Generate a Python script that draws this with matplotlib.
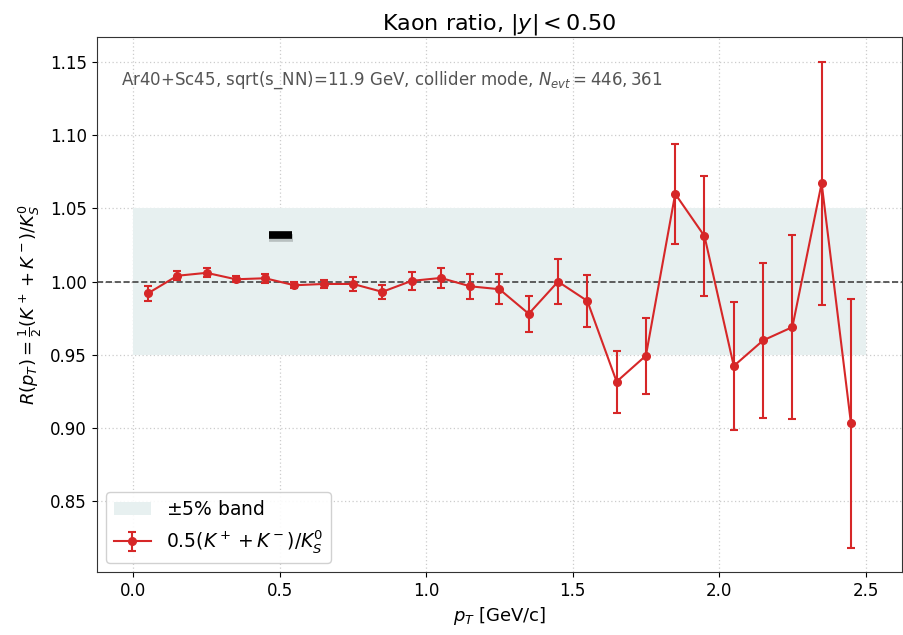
import numpy as np
import matplotlib
matplotlib.use("Agg")
import matplotlib.pyplot as plt
import matplotlib.patheffects as pe

pt = [0.05, 0.15, 0.25, 0.35, 0.45, 0.55, 0.65, 0.75, 0.85, 0.95, 1.05, 1.15,
      1.25, 1.35, 1.45, 1.55, 1.65, 1.75, 1.85, 1.95, 2.05, 2.15, 2.25, 2.35, 2.45]
ratio = [0.992, 1.004, 1.006, 1.0016, 1.0023, 0.9975, 0.9984, 0.9984, 0.993, 1.0005,
         1.0025, 0.9968, 0.9948, 0.978, 1.000, 0.9868, 0.9316, 0.9494, 1.060, 1.0311,
         0.9423, 0.9598, 0.9689, 1.0673, 0.9032]
err = [0.005, 0.003, 0.003, 0.002, 0.003, 0.002, 0.003, 0.0045, 0.005, 0.006,
       0.007, 0.0085, 0.0103, 0.0123, 0.0153, 0.018, 0.0212, 0.0259, 0.0343, 0.0408,
       0.0437, 0.053, 0.063, 0.083, 0.0852]
band_x = [0.0, 2.5]
band_lo = [0.95, 0.95]
band_hi = [1.05, 1.05]
dash_x = [0.462, 0.543]
dash_y = [1.032, 1.032]

fig = plt.figure(figsize=(9.04, 6.35), dpi=100)
ax = fig.add_axes([0.107, 0.099, 0.891, 0.842])

ax.fill_between(band_x, band_lo, band_hi, color='#e7f0f0', lw=0,
                label=r'$\pm5\%$ band')
ax.axhline(1.0, color='#444444', ls='--', lw=1.2)
ax.errorbar(pt, ratio, yerr=err, fmt='o-', color='#d62728', ms=5.5, lw=1.5,
            capsize=3, elinewidth=1.5, capthick=1.5,
            label=r'$0.5(K^+ + K^-)/K^0_S$')
ax.plot(dash_x, dash_y, color='black', lw=5.5, solid_capstyle='butt',
        path_effects=[pe.SimpleLineShadow(offset=(0.5, -2), alpha=0.2), pe.Normal()])

ax.grid(True, ls=(0, (1, 2)), color='#cccccc', lw=0.9)
ax.set_axisbelow(True)
ax.set_title(r'Kaon ratio, $|y| < 0.50$', fontsize=16)
ax.set_xlabel(r'$p_T$ [GeV/c]', fontsize=13)
ax.set_ylabel(r'$R(p_T) = \frac{1}{2}(K^+ + K^-)/K^0_S$', fontsize=13)
ax.tick_params(labelsize=12)
ax.text(0.03, 0.94, r'Ar40+Sc45, sqrt(s_NN)=11.9 GeV, collider mode, $N_{evt} = 446,361$',
        transform=ax.transAxes, fontsize=12, color='#555555', va='top')
ax.legend(loc='lower left', fontsize=13.5, framealpha=0.9)
for s in ax.spines.values():
    s.set_color('#333333')

fig.savefig('out.png', dpi=100)
